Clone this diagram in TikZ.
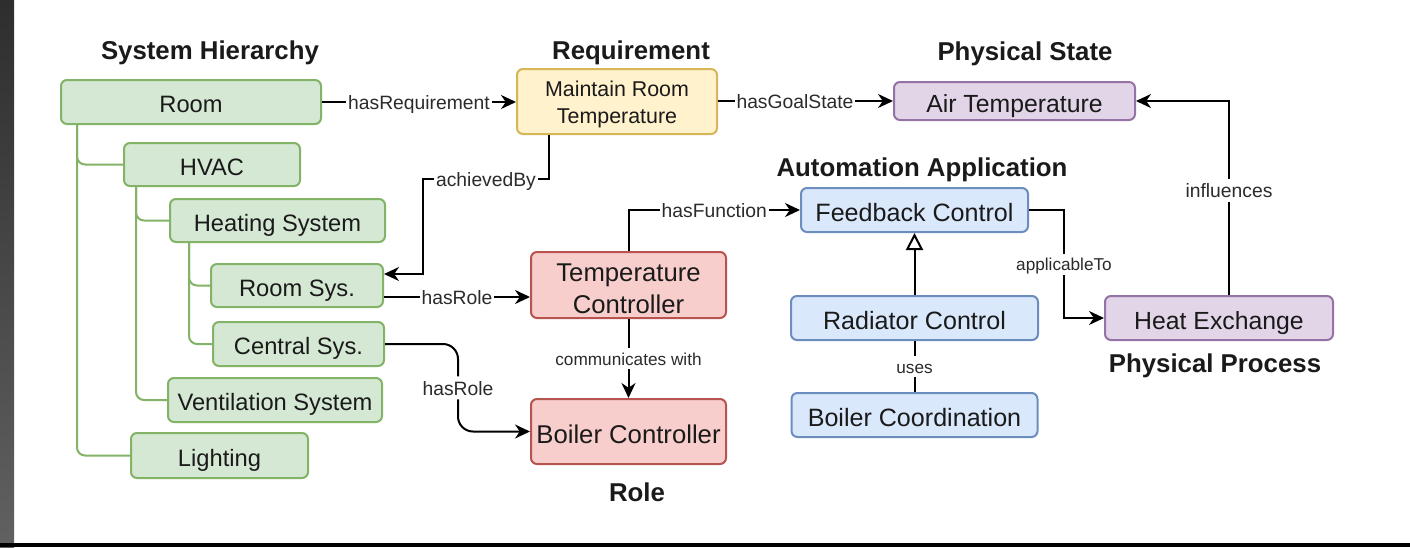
\documentclass[tikz,border=0pt]{standalone}
\usepackage{fontspec}
\setmainfont{Liberation Sans}
\usetikzlibrary{arrows.meta}

\definecolor{grnF}{HTML}{D5E8D4}\definecolor{grnD}{HTML}{82B366}
\definecolor{ylwF}{HTML}{FFF2CC}\definecolor{ylwD}{HTML}{D6B656}
\definecolor{prpF}{HTML}{E1D5E7}\definecolor{prpD}{HTML}{9673A6}
\definecolor{bluF}{HTML}{DAE8FC}\definecolor{bluD}{HTML}{6C8EBF}
\definecolor{redF}{HTML}{F8CECC}\definecolor{redD}{HTML}{B85450}
\definecolor{ink}{HTML}{1A1A1A}
\definecolor{lblink}{HTML}{2B2B2B}

% lower a line of text without changing its box
\newcommand\lowerln[2]{\raisebox{-#1}[\height][\depth]{#2}}

\tikzset{
  box/.style={draw, rounded corners=3pt, line width=1pt, text=ink, align=center, inner sep=0pt},
  sz/.style 2 args={minimum width=#1*0.5pt, minimum height=#2*0.5pt},
  grn/.style={box, fill=grnF, draw=grnD, font=\fontsize{11.85pt}{14pt}\selectfont,
              text height=11.3pt, text depth=0.6pt},
  ylw/.style={box, fill=ylwF, draw=ylwD, font=\fontsize{10.7pt}{13.6pt}\selectfont},
  prp/.style={box, fill=prpF, draw=prpD, font=\fontsize{12.4pt}{15pt}\selectfont,
              text height=11.8pt, text depth=0.6pt},
  blu/.style={box, fill=bluF, draw=bluD, font=\fontsize{12.55pt}{15pt}\selectfont,
              text height=11.9pt, text depth=0.6pt},
  rd/.style={box, fill=redF, draw=redD, font=\fontsize{12.85pt}{16pt}\selectfont},
  rdone/.style={rd, text height=12.2pt, text depth=0.65pt},
  ttl/.style={font=\bfseries\fontsize{12.9pt}{15pt}\selectfont, text=ink, inner sep=0pt,
              text height=12.3pt, text depth=0.6pt},
  rel/.style={draw=black, line width=1pt, -{Stealth[length=7.5pt,width=7pt,inset=2.4pt]}},
  lbl/.style={fill=white, text=lblink, font=\fontsize{9.65pt}{11pt}\selectfont, inner sep=1pt,
              text height=8.6pt, text depth=0.9pt},
  lbls/.style={lbl, font=\fontsize{8.6pt}{10pt}\selectfont, text height=7.7pt, text depth=0.8pt},
  tree/.style={draw=grnD, line width=1pt, rounded corners=4pt},
}

\begin{document}
\begin{tikzpicture}[x=0.5pt, y=-0.5pt]
  % canvas and frame edges
  \useasboundingbox (0,0) rectangle (1410,547);
  \fill[white] (0,0) rectangle (1410,547);
  \shade[top color=black!82, bottom color=black!62] (0,0) rectangle (14,547);
  \fill[black] (0,543) rectangle (1410,547);

  % group titles
  \node[ttl] (tSys)  at (210,48)  {System Hierarchy};
  \node[ttl] (tReq)  at (631,48)  {Requirement};
  \node[ttl] (tPS)   at (1025,48.5) {Physical State};
  \node[ttl] (tAA)   at (922,165) {Automation Application};
  \node[ttl] (tPP)   at (1215,361) {Physical Process};
  \node[ttl] (tRole) at (637,490) {Role};

  % system hierarchy
  \node[grn, sz={260}{44}] (room)    at (191,102)   {Room};
  \node[grn, sz={176}{43}] (hvac)    at (212,164.5) {HVAC};
  \node[grn, sz={215}{43}] (heat)    at (277.5,220.5) {Heating System};
  \node[grn, sz={172}{43}] (roomsys) at (297,285.5) {Room Sys.};
  \node[grn, sz={171}{44}] (central) at (298.5,344) {Central Sys.};
  \node[grn, sz={214}{44}] (vent)    at (275,400)   {Ventilation System};
  \node[grn, sz={177}{45}] (light)   at (219.5,455.5) {Lighting};

  % requirement, physical state and process
  \node[ylw, sz={200}{65}] (req) at (617,101.5)
       {\lowerln{1.4pt}{Maintain Room}\\\lowerln{1.4pt}{Temperature}};
  \node[prp, sz={241}{38}] (air) at (1014.5,101) {Air Temperature};
  \node[prp, sz={228}{44}] (hx)  at (1219,318)   {Heat Exchange};

  % automation applications
  \node[blu, sz={227}{44}] (fb)  at (914.5,210) {Feedback Control};
  \node[blu, sz={247}{44}] (rad) at (914.5,318) {Radiator Control};
  \node[blu, sz={246}{44}] (bco) at (914.5,415) {Boiler Coordination};

  % roles
  \node[rd, sz={195}{66}] (tc) at (628.5,285)
       {\lowerln{2pt}{Temperature}\\\lowerln{2pt}{Controller}};
  \node[rdone, sz={195}{65}] (bc) at (628.5,431.5) {Boiler Controller};

  % hierarchy tree
  \draw[tree] ([xshift=8.5pt]room.south west) |- (hvac.west);
  \draw[tree] ([xshift=8.5pt]room.south west) |- (light.west);
  \draw[tree] ([xshift=6.5pt]hvac.south west) |- (heat.west);
  \draw[tree] ([xshift=6.5pt]hvac.south west) |- (vent.west);
  \draw[tree] ([xshift=10pt]heat.south west) |- (roomsys.west);
  \draw[tree] ([xshift=10pt]heat.south west) |- (central.west);

  % relations
  \draw[rel] (room.east) -- node[lbl]{hasRequirement} (req.west |- room.east);
  \draw[rel] (req.east |- air.west) -- node[lbl, pos=0.44]{hasGoalState} (air.west);
  \draw[rel] ([xshift=16.5pt]req.south west) -- ++(0,44)
             -- node[lbl]{achievedBy} ++(-126,0) |- ([yshift=5.75pt]roomsys.east);
  \draw[rel] ([yshift=-5.75pt]roomsys.east) coordinate (rsOut)
             -- node[lbl]{hasRole} (rsOut -| tc.west);
  \draw[rel, rounded corners=7.5pt] (central.east) -- ++(73,0)
             |- node[lbl, pos=0.25]{hasRole} (bc.west);
  \draw[rel] (tc.north) |- node[lbl, pos=0.75]{hasFunction} (fb.west);
  \draw[rel] (tc.south) -- node[lbls]{communicates with} (bc.north);
  \draw[rel] (fb.east) -- ++(35,0) |- node[lbls, pos=0.25]{applicableTo} (hx.west);
  \draw[rel] ([xshift=5pt]hx.north) |- node[lbl, pos=0.27]{influences} (air.east);
  \draw[line width=1pt, -{Triangle[open, length=8.5pt, width=8.5pt]}] (rad.north) -- (fb.south);
  \draw[line width=1pt] (rad.south) -- node[lbls]{uses} (bco.north);
\end{tikzpicture}
\end{document}
